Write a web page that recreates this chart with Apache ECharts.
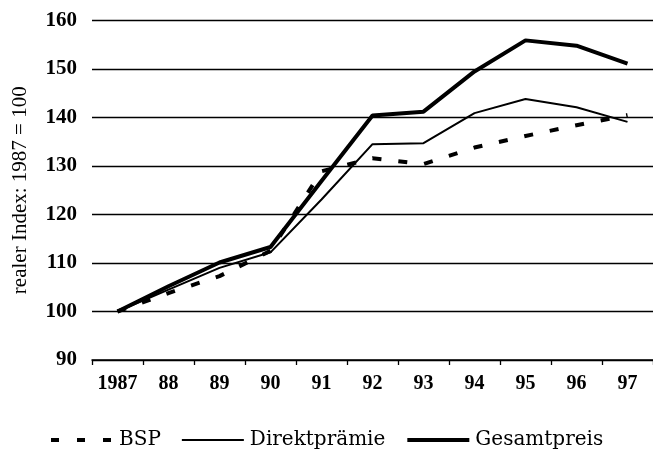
<!DOCTYPE html>
<html>
<head>
<meta charset="utf-8">
<script src="https://cdn.jsdelivr.net/npm/echarts@6/dist/echarts.min.js"></script>
<style>
  html, body { margin: 0; padding: 0; background: #fff; }
  #chart { width: 653px; height: 456px; }
</style>
</head>
<body>
<div id="chart"></div>
<script>
// Jahre (x-Achse)
const years = ["1987", "88", "89", "90", "91", "92", "93", "94", "95", "96", "97"];
// realer Index, 1987 = 100
const bsp = [100, 103.8, 107.3, 112.5, 128.9, 131.6, 130.4, 133.8, 136.2, 138.4, 140.5];
const direktpraemie = [100, 104.5, 109, 112.2, 123.1, 134.5, 134.7, 140.9, 143.8, 142.1, 139.1];
const gesamtpreis = [100, 105.2, 110.1, 113.3, 126.9, 140.4, 141.2, 149.5, 155.9, 154.8, 151.1];

const serif = "Liberation Serif";

const chartDom = document.getElementById("chart");
const myChart = echarts.init(chartDom);

// Legende: nur Linie, kein Symbol
const legendItem = (name, width, type) => ({
    name: name,
    itemStyle: { opacity: 0 },
    lineStyle: { color: "#000", width: width, type: type }
});

const option = {
    backgroundColor: "#fff",
    animation: false,
    grid: {
        left: 92,
        top: 20.5,
        width: 569,
        bottom: 96
    },
    legend: {
        left: 44,
        top: 425,
        itemWidth: 62,
        itemHeight: 14,
        itemGap: 20,
        textStyle: {
            fontFamily: "DejaVu Serif",
            fontSize: 20,
            color: "#000",
            padding: [0, 0, 0, 1]
        },
        data: [
            legendItem("BSP", 4, [8, 18]),
            legendItem("Direktprämie", 2, "solid"),
            legendItem("Gesamtpreis", 4, "solid")
        ]
    },
    xAxis: {
        type: "category",
        data: years,
        boundaryGap: true,
        axisLine: { lineStyle: { color: "#000", width: 1.5 } },
        axisTick: { show: true, length: 5, lineStyle: { color: "#000", width: 1.3 } },
        axisLabel: {
            interval: 0,
            fontFamily: serif,
            fontWeight: "bold",
            fontSize: 20,
            color: "#000",
            margin: 14
        },
        splitLine: { show: false }
    },
    yAxis: {
        type: "value",
        min: 90,
        max: 160,
        interval: 10,
        name: "realer Index: 1987 = 100",
        nameLocation: "middle",
        nameGap: 61,
        nameTextStyle: {
            fontFamily: serif,
            fontSize: 21,
            color: "#000"
        },
        axisLine: { show: false },
        axisTick: { show: false },
        axisLabel: {
            fontFamily: serif,
            fontWeight: "bold",
            fontSize: 21,
            color: "#000",
            margin: 15
        },
        splitLine: { lineStyle: { color: "#000", width: 1.4 } }
    },
    series: [
        {
            name: "BSP",
            type: "line",
            data: bsp,
            symbol: "none",
            lineStyle: { color: "#000", width: 4, type: [9, 17] },
            itemStyle: { color: "#000" }
        },
        {
            name: "Direktprämie",
            type: "line",
            data: direktpraemie,
            symbol: "none",
            lineStyle: { color: "#000", width: 2 },
            itemStyle: { color: "#000" }
        },
        {
            name: "Gesamtpreis",
            type: "line",
            data: gesamtpreis,
            symbol: "none",
            lineStyle: { color: "#000", width: 4 },
            itemStyle: { color: "#000" }
        }
    ]
};

myChart.setOption(option);
</script>
</body>
</html>
